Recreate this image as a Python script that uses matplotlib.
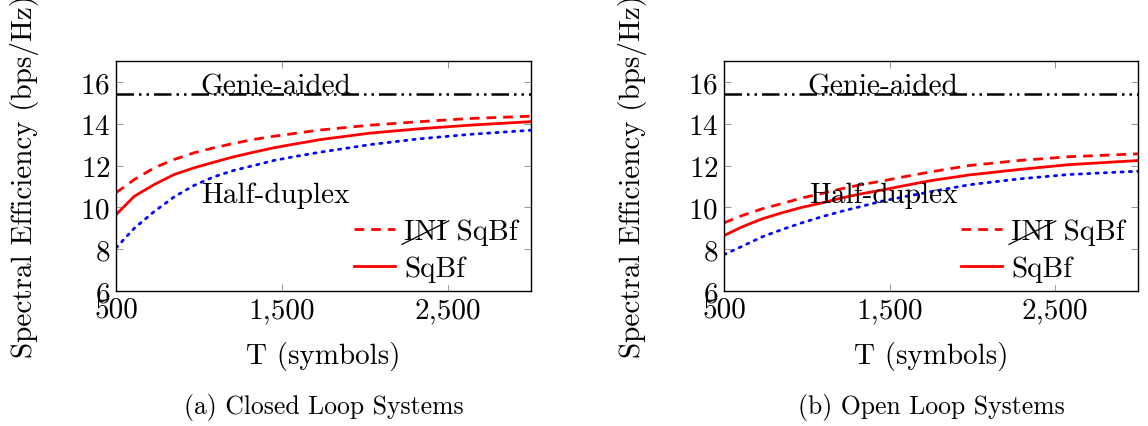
import matplotlib
matplotlib.use("Agg")
import matplotlib.pyplot as plt
from matplotlib.ticker import FuncFormatter
from matplotlib.lines import Line2D

plt.rcParams['font.family'] = ['cmr10', 'DejaVu Serif']
plt.rcParams['mathtext.fontset'] = 'cm'
plt.rcParams['axes.unicode_minus'] = False
plt.rcParams['axes.formatter.use_mathtext'] = True

# values
genie = 15.4

T_closed = [500, 610, 730, 850, 970, 1090, 1210, 1330, 1450, 1570, 1730, 2030, 2330, 2630, 3000]
closed_ini = [10.7, 11.33, 11.89, 12.29, 12.61, 12.85, 13.06, 13.25, 13.4, 13.53, 13.7, 13.93, 14.1, 14.25, 14.36]
closed_sqbf = [9.65, 10.53, 11.09, 11.57, 11.89, 12.16, 12.42, 12.64, 12.85, 13.02, 13.24, 13.55, 13.76, 13.93, 14.1]
closed_half = [8.06, 9.0, 9.8, 10.5, 11.05, 11.46, 11.77, 12.0, 12.24, 12.42, 12.64, 13.0, 13.28, 13.49, 13.69]

T_open = [500, 610, 730, 850, 970, 1090, 1210, 1330, 1450, 1570, 1750, 1980, 2280, 2580, 3000]
open_ini = [9.26, 9.61, 9.93, 10.18, 10.45, 10.66, 10.89, 11.09, 11.25, 11.44, 11.7, 12.0, 12.24, 12.42, 12.56]
open_sqbf = [8.65, 9.07, 9.45, 9.74, 10.0, 10.21, 10.45, 10.65, 10.82, 11.01, 11.28, 11.55, 11.81, 12.04, 12.24]
open_half = [7.74, 8.14, 8.59, 8.94, 9.26, 9.55, 9.81, 10.05, 10.29, 10.48, 10.75, 11.08, 11.36, 11.57, 11.73]

xticks = [500, 1500, 2500]
yticks = [6, 8, 10, 12, 14, 16]
captions = ['(a) Closed Loop Systems', '(b) Open Loop Systems']

W, H = 1148, 427
fig = plt.figure(figsize=(W / 100, H / 100), dpi=100)
fs = 21

def px(l, b, w, h):
    return [l / W, b / H, w / W, h / H]

panels = [
    (px(116, 135, 415, 230), T_closed, closed_ini, closed_sqbf, closed_half),
    (px(724, 135, 414, 230), T_open, open_ini, open_sqbf, open_half),
]

for k, (rect, T, ini, sq, half) in enumerate(panels):
    ax = fig.add_axes(rect)
    ax.axhline(genie, color='black', lw=1.8, ls=(0, (7, 2, 1, 2, 1, 2)), zorder=2)
    ax.plot(T, half, color='blue', lw=2, ls=(0, (0.8, 2.2)), dash_capstyle='round', zorder=2)
    ax.plot(T, ini, color='red', lw=2, ls=(0, (3.5, 2.5)), zorder=2)
    ax.plot(T, sq, color='red', lw=2, zorder=2)
    ax.text(1460, 15.45, 'Genie-aided', fontsize=fs, ha='center', va='baseline', zorder=3)
    ax.text(1460, 10.6, 'Half-duplex', fontsize=fs, ha='center', va='center', zorder=3)
    ax.set_xlim(500, 3000)
    ax.set_ylim(6, 17)
    ax.set_xticks(xticks)
    ax.set_yticks(yticks)
    ax.xaxis.set_major_formatter(FuncFormatter(lambda v, p: f'{v:,.0f}'))
    ax.tick_params(direction='in', top=True, right=True, labelsize=fs, length=5,
                   width=0.6, color='#888888', pad=4)
    for s in ax.spines.values():
        s.set_linewidth(1.0)
    ax.set_xlabel('T (symbols)', fontsize=fs, labelpad=13)
    ax.set_ylabel('Spectral Efficiency (bps/Hz)', fontsize=fs, labelpad=30)
    handles = [Line2D([], [], color='red', lw=2, ls=(0, (3.5, 2.5))),
               Line2D([], [], color='red', lw=2)]
    leg = ax.legend(handles, ['INI SqBf', 'SqBf'], loc='lower right', fontsize=fs,
                    bbox_to_anchor=(0.975, 0.026),
                    frameon=True, framealpha=1, edgecolor='none', fancybox=False,
                    handlelength=1.4, handletextpad=0.3, labelspacing=0.35,
                    borderpad=0.1, borderaxespad=0.0)
    leg.set_zorder(5)
    ax.text(rect[0] + rect[2] / 2, 0.045, captions[k], fontsize=18.5, ha='center',
            va='center', transform=fig.transFigure)

# strike through "INI" in the legend
fig.canvas.draw()
renderer = fig.canvas.get_renderer()
for ax in fig.axes:
    t = ax.get_legend().get_texts()[0]
    bb = t.get_window_extent(renderer)
    w, h, d = renderer.get_text_width_height_descent('INI', t.get_fontproperties(), ismath=False)
    x0, y0 = bb.x0 - 2, bb.y0 + 1
    fig.add_artist(Line2D([x0 / W, (x0 + w + 4) / W], [y0 / H, (bb.y1 - 2) / H],
                          color='black', lw=0.9, transform=fig.transFigure, zorder=10))

fig.savefig('out.png', dpi=100)
